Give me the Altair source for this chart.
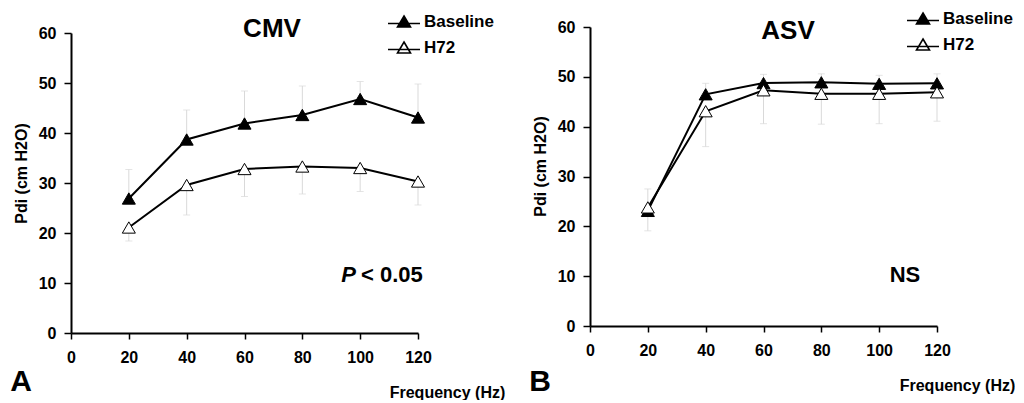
import altair as alt
import pandas as pd

# ---------------- data ----------------
freq = [20, 40, 60, 80, 100, 120]
series_names = ["Baseline", "H72"]

cmv_baseline = [26.9, 38.7, 41.9, 43.6, 46.8, 43.1]
cmv_baseline_hi = [32.7, 44.6, 48.4, 49.4, 50.3, 49.8]
cmv_h72 = [21.1, 29.6, 32.8, 33.3, 33.0, 30.3]
cmv_h72_lo = [18.4, 23.6, 27.3, 27.8, 28.3, 25.6]

asv_baseline = [23.1, 46.5, 48.75, 48.9, 48.6, 48.7]
asv_baseline_hi = [27.5, 48.7, 50.5, 50.6, 50.3, 50.6]
asv_h72 = [23.8, 43.1, 47.3, 46.6, 46.6, 46.9]
asv_h72_lo = [19.1, 36.0, 40.6, 40.5, 40.6, 41.1]

x_ticks = [0, 20, 40, 60, 80, 100, 120]
y_ticks = [0, 10, 20, 30, 40, 50, 60]

FONT = "Liberation Sans"
GREY = "#d9d9d9"
LEGEND_SYMBOL = "M-1.6,0.15H1.6M0,-0.6L0.65,0.5L-0.65,0.5Z"


def make_df(base, base_hi, h72, h72_lo):
    rows = []
    for i, f in enumerate(freq):
        rows.append({"freq": f, "series": "Baseline", "value": base[i], "err": base_hi[i]})
        rows.append({"freq": f, "series": "H72", "value": h72[i], "err": h72_lo[i]})
    return pd.DataFrame(rows)


def panel(df, title, title_pos, note, note_pos, letter, height, yrange,
          legend_y, ytitle_y, xtitle_x):
    xenc = alt.X(
        "freq:Q",
        scale=alt.Scale(domain=[0, 120], nice=False, zero=True),
        axis=alt.Axis(values=x_ticks, title="Frequency (Hz)", titleX=xtitle_x, titleY=59,
                      titleAlign="center", titleBaseline="middle",
                      tickSize=6, labelPadding=10, labelFlush=False, labelOverlap=False),
    )
    yscale = alt.Scale(domain=[0, 60], nice=False, zero=True)
    if yrange is not None:
        yscale = alt.Scale(domain=[0, 60], nice=False, zero=True, range=yrange)
    yenc = alt.Y(
        "value:Q",
        scale=yscale,
        axis=alt.Axis(values=y_ticks, title="Pdi (cm H2O)", titleX=-50, titleY=ytitle_y,
                      titleAngle=270, titleAlign="center", titleBaseline="middle",
                      tickSize=7, labelPadding=8, labelFlush=False, labelOverlap=False),
    )

    base = alt.Chart(df)
    err_rule = base.mark_rule(color=GREY, strokeWidth=1).encode(x=xenc, y=yenc, y2="err:Q")
    err_cap = base.mark_tick(orient="horizontal", size=7, thickness=1, color=GREY).encode(
        x=xenc, y=alt.Y("err:Q", scale=yscale))
    lines = base.mark_line(color="black", strokeWidth=2).encode(x=xenc, y=yenc, detail="series:N")
    pts = base.mark_point(shape="triangle-up", size=170, filled=True, stroke="black",
                          strokeWidth=1, opacity=1).encode(
        x=xenc, y=yenc,
        fill=alt.Fill("series:N",
                      scale=alt.Scale(domain=series_names, range=["black", "white"]),
                      legend=alt.Legend(title=None, orient="none", legendX=322, legendY=legend_y,
                                        symbolType=LEGEND_SYMBOL, symbolSize=400,
                                        symbolStrokeColor="black", symbolStrokeWidth=1.6,
                                        labelFont=FONT, labelFontSize=17, labelFontWeight="bold",
                                        labelColor="black", labelOffset=9, rowPadding=6,
                                        padding=0, symbolOpacity=1)),
    )

    tdf = pd.DataFrame({"t": [title]})
    ttl = alt.Chart(tdf).mark_text(font=FONT, fontSize=26, fontWeight="bold", color="black",
                                   align="center", baseline="middle").encode(
        text="t:N", x=alt.value(title_pos[0]), y=alt.value(title_pos[1]))

    ldf = pd.DataFrame({"t": [letter]})
    let = alt.Chart(ldf).mark_text(font=FONT, fontSize=30, fontWeight="bold", color="black",
                                   align="left", baseline="middle").encode(
        text="t:N", x=alt.value(-60.7), y=alt.value(355))

    layers = [err_rule, err_cap, lines, pts, ttl, let]
    for (txt, style, align, xoff) in note:
        ndf = pd.DataFrame({"t": [txt]})
        layers.append(alt.Chart(ndf).mark_text(font=FONT, fontSize=22, fontWeight="bold",
                                               fontStyle=style, color="black", align=align,
                                               baseline="middle").encode(
            text="t:N", x=alt.value(note_pos[0] + xoff), y=alt.value(note_pos[1])))

    return alt.layer(*layers).properties(width=347, height=height)


df_a = make_df(cmv_baseline, cmv_baseline_hi, cmv_h72, cmv_h72_lo)
df_b = make_df(asv_baseline, asv_baseline_hi, asv_h72, asv_h72_lo)

panel_a = panel(df_a, "CMV", (201, 2),
                [("P", "italic", "right", 0), ("< 0.05", "normal", "left", 5)], (285, 248),
                "A", 306, [306, 6], -16, 146, 376)
panel_b = panel(df_b, "ASV", (198, 4),
                [("NS", "normal", "center", 0)], (315, 248),
                "B", 299, None, -19, 139, 367)

chart = alt.hconcat(panel_a, panel_b, spacing=172, bounds="flush").resolve_scale(
    fill="independent").resolve_legend(fill="independent").properties(
    padding={"left": 2, "top": 0, "right": 0, "bottom": 0}
).configure_view(stroke=None).configure_axis(
    domainColor="black", domainWidth=2, tickColor="black", tickWidth=1.5, grid=False,
    labelFont=FONT, labelFontSize=16, labelFontWeight="bold", labelColor="black",
    titleFont=FONT, titleFontSize=16, titleFontWeight="bold", titleColor="black",
)

chart.save("out.html", embed_options={"renderer": "svg", "actions": False})
